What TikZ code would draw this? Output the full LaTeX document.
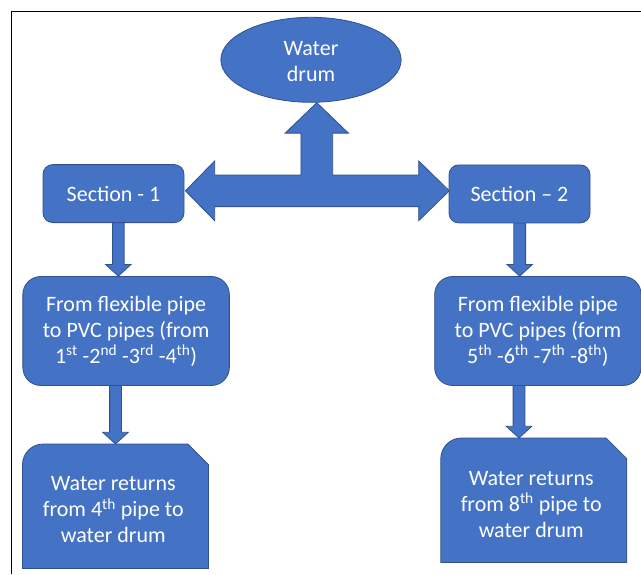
\documentclass[tikz,border=0pt]{standalone}
\usepackage{fontspec}
\setmainfont{Carlito}
\usetikzlibrary{shapes.geometric,calc,backgrounds}
\definecolor{boxblue}{HTML}{4472C4}
\definecolor{edgeblue}{HTML}{2F528F}
\newcommand{\downblock}[3]{%
  \path[blockarrow] let \p1=($(#1)+(#3,0)$), \p2=(#2) in
    ({\x1-5.9pt},{\y1+3pt}) -- ({\x1+5.9pt},{\y1+3pt}) -- ({\x1+5.9pt},{\y2+11.7pt})
    -- ({\x1+12.8pt},{\y2+11.7pt}) -- (\x1,\y2) -- ({\x1-12.8pt},{\y2+11.7pt})
    -- ({\x1-5.9pt},{\y2+11.7pt}) -- cycle;}
\begin{document}
\begin{tikzpicture}[x=1pt,y=-1pt,
  shapebox/.style={fill=boxblue, draw=edgeblue, line width=0.8pt},
  blockarrow/.style={fill=boxblue, draw=edgeblue, line width=0.8pt, line join=miter},
  txt/.style={text=white, font=\fontsize{22}{26}\selectfont, align=center, inner sep=0pt},
  secbox/.style={shapebox, txt, rectangle, rounded corners=9.7pt, minimum width=141pt, minimum height=58pt},
  flexbox/.style={shapebox, txt, rectangle, rounded corners=18pt, minimum width=206.5pt, minimum height=109pt},
  snipframe/.style={rectangle, inner sep=0pt, minimum width=185.6pt, minimum height=124pt}]
\useasboundingbox (0,0) rectangle (641,574);

% nodes
\node[shapebox, ellipse, inner sep=0pt, minimum width=180.3pt, minimum height=85pt] (drum) at (311,59.8) {};
\node[txt] (drumtext) at (311,61.9) {Water\\drum};

\node[secbox] (s1) at (113.5,193.6) {Section - 1};
\node[secbox] (s2) at (519.5,193.9) {Section – 2};

\node[flexbox] (f1) at (126.1,331) {From flexible pipe\\to PVC pipes (from\\1\textsuperscript{st} -2\textsuperscript{nd} -3\textsuperscript{rd} -4\textsuperscript{th})};
\node[flexbox] (f2) at (537.9,331) {From flexible pipe\\to PVC pipes (form\\5\textsuperscript{th} -6\textsuperscript{th} -7\textsuperscript{th} -8\textsuperscript{th})};

\node[snipframe] (b1) at (115.5,506.2) {};
\node[snipframe] (b2) at (533.8,500.2) {};
\foreach \b in {b1,b2}{
  \draw[shapebox] (\b.south west) [rounded corners=20.7pt] -- (\b.north west) [sharp corners]
    -- ($(\b.north east)+(-20.7,0)$) -- ($(\b.north east)+(0,20.7)$) -- (\b.south east) -- cycle;
}
\node[txt] (b1text) at (113.3,509.9) {Water returns\\from 4\textsuperscript{th} pipe to\\water drum};
\node[txt] (b2text) at (531.2,504.2) {Water returns\\from 8\textsuperscript{th} pipe to\\water drum};

% block arrows behind the shapes
\begin{scope}[on background layer]
  \coordinate (ut) at ($(drum.south)+(5.8,0)$);
  \coordinate (lt) at ($(s1.east)+(1,-2.8)$);
  \coordinate (rt) at ($(s2.west)+(0.7,-3.1)$);
  \path[blockarrow] let \p1=(ut), \p2=(lt), \p3=(rt) in
    (\p1) -- ({\x1+31.6pt},{\y1-30.4pt}) -- ({\x1+15.9pt},{\y1-30.4pt})
    -- ({\x1+15.9pt},{\y2+15.8pt}) -- ({\x3-30.6pt},{\y2+15.8pt})
    -- ({\x3-30.6pt},{\y3+29.9pt}) -- (\p3) -- ({\x3-30.6pt},{\y3-29.9pt})
    -- ({\x3-30.6pt},{\y2-15.8pt}) -- ({\x2+29.3pt},{\y2-15.8pt})
    -- ({\x2+29.3pt},{\y2-29.9pt}) -- (\p2) -- ({\x2+29.3pt},{\y2+29.9pt})
    -- ({\x2+29.3pt},{\y2+15.8pt}) -- ({\x1-15.9pt},{\y2+15.8pt})
    -- ({\x1-15.9pt},{\y1-30.4pt}) -- ({\x1-31.6pt},{\y1-30.4pt}) -- cycle;
  \downblock{s1.south}{f1.north}{4.8}
  \downblock{s2.south}{f2.north}{0.2}
  \coordinate (b1top) at (b1.north);
  \coordinate (b2top) at (b2.north);
  \downblock{f1.south}{b1top}{-10.6}
  \downblock{f2.south}{b2top}{-18.9}
\end{scope}

% frame
\draw[line width=1.2pt] (11.5,574) -- (11.5,11.7) -- (641,11.7);
\end{tikzpicture}
\end{document}
